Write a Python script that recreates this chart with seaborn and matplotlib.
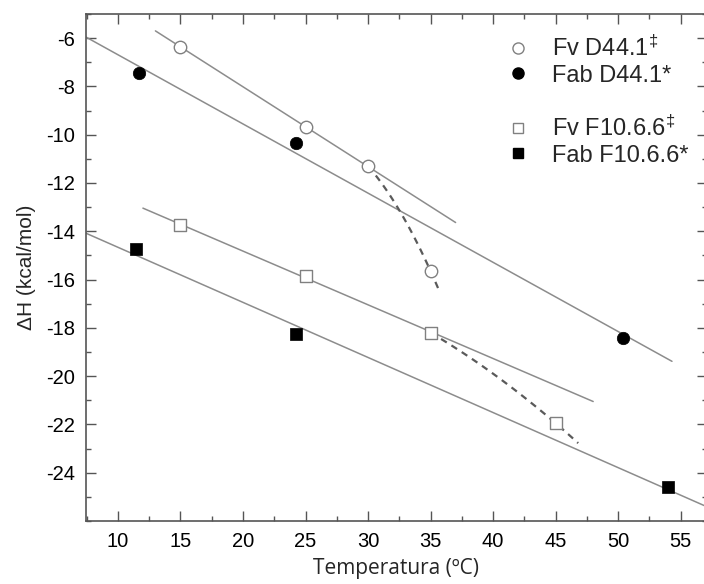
import numpy as np
import pandas as pd
import matplotlib
matplotlib.use("Agg")
import matplotlib.pyplot as plt
import seaborn as sns
from matplotlib.ticker import MultipleLocator
from matplotlib.lines import Line2D

# ---- data ----
fv_d44_t = [15, 25, 30, 35]
fv_d44_dh = [-6.35, -9.7, -11.3, -15.65]
fab_d44_t = [11.7, 24.2, 50.4]
fab_d44_dh = [-7.45, -10.35, -18.4]
fv_f10_t = [15, 25, 35, 45]
fv_f10_dh = [-13.75, -15.85, -18.2, -21.95]
fab_f10_t = [11.45, 24.2, 54.0]
fab_f10_dh = [-14.75, -18.25, -24.6]

labels = ["Fv D44.1$^{\\ddag}$", "Fab D44.1*", "Fv F10.6.6$^{\\ddag}$", "Fab F10.6.6*"]
xticks = [10, 15, 20, 25, 30, 35, 40, 45, 50, 55]
yticks = [-24, -22, -20, -18, -16, -14, -12, -10, -8, -6]
XLIM = (7.45, 57.1)
YLIM = (-26.0, -5.0)

# fit-line extents (temperature range of each drawn fit)
fv_d44_span = (13.0, 37.0)
fab_d44_span = (XLIM[0], 54.3)
fv_f10_span = (12.0, 48.0)
fab_f10_span = XLIM
fv_d44_curve_span = (30.0, 35.75)
fv_f10_curve_span = (35.0, 46.8)

sns.set_theme(style="ticks")
plt.rcParams["font.family"] = ["Liberation Sans", "DejaVu Sans"]
plt.rcParams["mathtext.fontset"] = "custom"
plt.rcParams["mathtext.rm"] = "Liberation Sans"
plt.rcParams["mathtext.it"] = "Liberation Sans"
plt.rcParams["axes.unicode_minus"] = False

fig = plt.figure(figsize=(7.04, 5.84), dpi=100)
ax = fig.add_axes([86 / 704, 1 - 521 / 584, 621 / 704, 507 / 584])

line_c = "#8c8c8c"
dash_c = "#5a5a5a"


def fit_line(t, dh, span, deg=1, n=100):
    coef = np.polyfit(t, dh, deg)
    xs = np.linspace(span[0], span[1], n)
    return pd.DataFrame({"t": xs, "dh": np.polyval(coef, xs)})


# regression lines
for t, dh, span in [
    (fv_d44_t[:3], fv_d44_dh[:3], fv_d44_span),
    (fab_d44_t, fab_d44_dh, fab_d44_span),
    (fv_f10_t[:3], fv_f10_dh[:3], fv_f10_span),
    (fab_f10_t, fab_f10_dh, fab_f10_span),
]:
    df = fit_line(t, dh, span)
    sns.lineplot(data=df, x="t", y="dh", ax=ax, color=line_c, lw=1.1,
                 estimator=None, sort=False, legend=False)

# dashed curves (quadratic through last three Fv points)
for t, dh, span in [
    (fv_d44_t[1:], fv_d44_dh[1:], fv_d44_curve_span),
    (fv_f10_t[1:], fv_f10_dh[1:], fv_f10_curve_span),
]:
    df = fit_line(t, dh, span, deg=2)
    sns.lineplot(data=df, x="t", y="dh", ax=ax, color=dash_c, lw=1.6,
                 estimator=None, sort=False, legend=False, dashes=False,
                 linestyle=(0, (3, 2.5)))

# points
ms = 80
sns.scatterplot(x=fv_d44_t, y=fv_d44_dh, ax=ax, marker="o", s=ms,
                facecolor="white", edgecolor="#808080", linewidth=1.0, zorder=5)
sns.scatterplot(x=fab_d44_t, y=fab_d44_dh, ax=ax, marker="o", s=ms,
                color="black", edgecolor="black", linewidth=0.5, zorder=5)
sns.scatterplot(x=fv_f10_t, y=fv_f10_dh, ax=ax, marker="s", s=70,
                facecolor="white", edgecolor="#808080", linewidth=1.0, zorder=5)
sns.scatterplot(x=fab_f10_t, y=fab_f10_dh, ax=ax, marker="s", s=70,
                color="black", edgecolor="black", linewidth=0.5, zorder=5)

ax.set_xlim(*XLIM)
ax.set_ylim(*YLIM)
ax.set_xticks(xticks)
ax.set_yticks(yticks)
ax.xaxis.set_minor_locator(MultipleLocator(2.5))
ax.yaxis.set_minor_locator(MultipleLocator(1))
spine_c = "#555555"
for s in ax.spines.values():
    s.set_visible(True)
    s.set_color(spine_c)
    s.set_linewidth(1.2)
ax.tick_params(which="both", direction="in", top=True, right=True,
               color=spine_c, width=1.0, labelcolor="black")
ax.tick_params(which="major", length=7, labelsize=14.5, pad=8)
ax.tick_params(which="minor", length=3.5)

ax.set_xlabel("Temperatura (ºC)", fontsize=15, family=["Open Sans", "DejaVu Sans"],
              labelpad=5)
ax.set_ylabel("ΔH (kcal/mol)", fontsize=15, labelpad=7)

handles = [
    Line2D([], [], ls="none", marker="o", ms=8, mfc="white", mec="#808080", mew=1.0),
    Line2D([], [], ls="none", marker="o", ms=8, mfc="black", mec="black"),
    Line2D([], [], ls="none", marker=None),
    Line2D([], [], ls="none", marker="s", ms=7.5, mfc="white", mec="#808080", mew=1.0),
    Line2D([], [], ls="none", marker="s", ms=7.5, mfc="black", mec="black"),
]
leg_labels = [labels[0], labels[1], " ", labels[2], labels[3]]
fig.legend(handles, leg_labels, loc="upper left",
           bbox_to_anchor=(506 / 704, 1 - 36 / 584), frameon=False,
           fontsize=17, handlelength=1.0, handletextpad=0.95,
           labelspacing=0.15, borderpad=0, borderaxespad=0)

fig.savefig("out.png", dpi=100)
